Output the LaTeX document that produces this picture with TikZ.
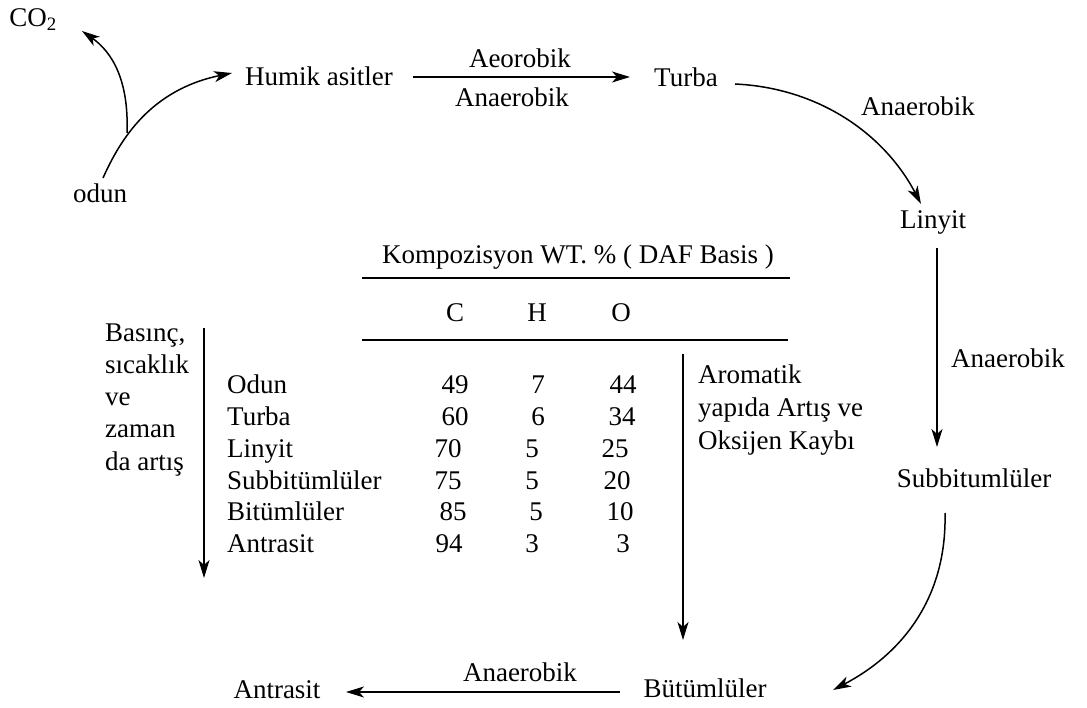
\documentclass[tikz,border=0pt]{standalone}
\usepackage{fontspec}
\setmainfont{Liberation Serif}
\usetikzlibrary{arrows.meta}
\begin{document}
\begin{tikzpicture}[x=1pt,y=-1pt,
  lbl/.style={inner sep=0pt,font=\fontsize{27}{31}\selectfont},
  txt/.style={inner sep=0pt,anchor=base west,font=\fontsize{27}{31}\selectfont},
  num/.style={inner sep=0pt,anchor=base,font=\fontsize{27}{31}\selectfont},
  conn/.style={line width=1.5pt,-{Stealth[length=18pt,width=11pt,inset=5pt]}},
  rule/.style={line width=1.7pt}]
\useasboundingbox (0,0) rectangle (1087,708);
% nodes
\node[lbl] (co2) at (33,20) {CO\textsubscript{2}};
\node[lbl] (odun) at (100,193) {odun};
\node[lbl] (humik) at (319,76) {Humik asitler};
\node[lbl] (aer) at (520,58) {Aeorobik};
\node[lbl] (anaer1) at (512,97) {Anaerobik};
\node[lbl] (turba) at (686,77) {Turba};
\node[lbl] (anaer2) at (918,106) {Anaerobik};
\node[lbl] (linyit) at (933,222) {Linyit};
\node[lbl] (anaer3) at (1008,358) {Anaerobik};
\node[lbl] (subb) at (974,478) {Subbitumlüler};
\node[lbl] (butum) at (705,688) {Bütümlüler};
\node[lbl] (antr) at (277,690) {Antrasit};
\node[lbl] (anaer4) at (520,672) {Anaerobik};
% coordinates
\coordinate (branch) at (127,133);
\coordinate (co2tip) at (82,31);
\coordinate (odunTop) at (103,178);
\coordinate (humikIn) at (232,73);
\coordinate (h1) at (413,77);
\coordinate (h2) at (630,77);
\coordinate (t1) at (735,84);
\coordinate (l1) at (921,204);
\coordinate (l2) at (937,248);
\coordinate (s1) at (937,447);
\coordinate (s2) at (945,513);
\coordinate (b1) at (833,690);
\coordinate (b2) at (620,692);
\coordinate (a1) at (346,692);
% top-left curves
\draw[conn] (odunTop) .. controls (120,140) and (150,90) .. (humikIn);
\draw[conn] (branch) .. controls (129,80) and (112,52) .. (co2tip);
% main cycle arrows
\draw[conn] (h1) -- (h2);
\draw[conn] (t1) .. controls (820,88) and (885,135) .. (l1);
\draw[conn] (l2) -- (s1);
\draw[conn] (s2) .. controls (947,600) and (900,655) .. (b1);
\draw[conn] (b2) -- (a1);
% table
\node[lbl] (komp) at (578,257) {Kompozisyon WT. \% ( DAF Basis )};
\coordinate (r1a) at (362,278); \coordinate (r1b) at (790,278);
\coordinate (r2a) at (362,340); \coordinate (r2b) at (788,340);
\draw[rule] (r1a) -- (r1b);
\draw[rule] (r2a) -- (r2b);
\node[num] (hc) at (455,322) {C};
\node[num] (hh) at (537,322) {H};
\node[num] (ho) at (621,322) {O};
% left arrow and text
\coordinate (p1) at (204,328); \coordinate (p2) at (204,578);
\draw[conn] (p1) -- (p2);
\node[txt] (bas1) at (105,342) {Basınç,};
\node[txt] (bas2) at (105,374) {sıcaklık};
\node[txt] (bas3) at (105,406) {ve};
\node[txt] (bas4) at (105,438) {zaman};
\node[txt] (bas5) at (105,470) {da artış};
% right arrow and text
\coordinate (q1) at (683,354); \coordinate (q2) at (683,640);
\draw[conn] (q1) -- (q2);
\node[txt] (aro1) at (698,384) {Aromatik};
\node[txt] (aro2) at (698,417) {yapıda Artış ve};
\node[txt] (aro3) at (698,449) {Oksijen Kaybı};
% rows
\node[txt] (n1) at (227,394) {Odun};
\node[txt] (n2) at (227,425) {Turba};
\node[txt] (n3) at (227,457) {Linyit};
\node[txt] (n4) at (227,489) {Subbitümlüler};
\node[txt] (n5) at (227,520) {Bitümlüler};
\node[txt] (n6) at (227,552) {Antrasit};
\node[num] (c1) at (455,394) {49};
\node[num] (c2) at (455,425) {60};
\node[num] (c3) at (448,457) {70};
\node[num] (c4) at (448,489) {75};
\node[num] (c5) at (453,520) {85};
\node[num] (c6) at (449,552) {94};
\node[num] (e1) at (538,394) {7};
\node[num] (e2) at (538,425) {6};
\node[num] (e3) at (532,457) {5};
\node[num] (e4) at (532,489) {5};
\node[num] (e5) at (536,520) {5};
\node[num] (e6) at (532,552) {3};
\node[num] (o1) at (623,394) {44};
\node[num] (o2) at (622,425) {34};
\node[num] (o3) at (615,457) {25};
\node[num] (o4) at (617,489) {20};
\node[num] (o5) at (620,520) {10};
\node[num] (o6) at (623,552) {3};
\end{tikzpicture}
\end{document}
